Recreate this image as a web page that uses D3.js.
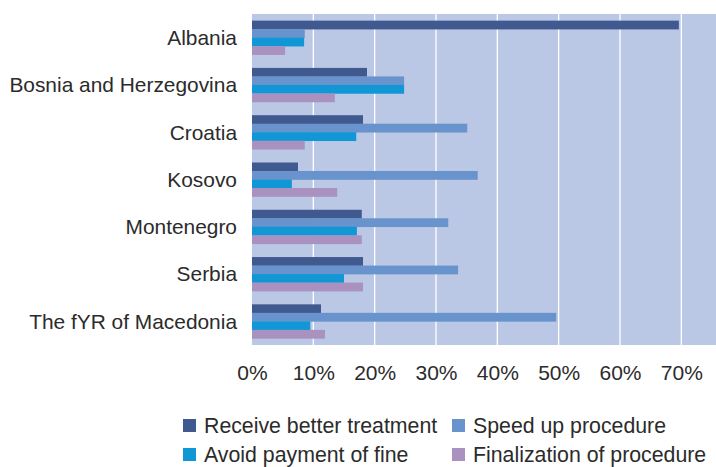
<!DOCTYPE html>
<html><head><meta charset="utf-8">
<script src="https://cdn.jsdelivr.net/npm/d3@7"></script>
<style>body{margin:0;background:#fff;}svg{display:block;font-family:"Liberation Sans",Arial,sans-serif;}</style>
</head><body>
<svg id="c" width="716" height="467"></svg>
<script>
const categories = ["Albania","Bosnia and Herzegovina","Croatia","Kosovo","Montenegro","Serbia","The fYR of Macedonia"];
const seriesNames = ["Receive better treatment","Speed up procedure","Avoid payment of fine","Finalization of procedure"];
const receiveBetter = [0.696,0.1875,0.181,0.075,0.179,0.181,0.1125];
const speedUp = [0.086,0.248,0.351,0.368,0.320,0.336,0.496];
const avoidFine = [0.085,0.248,0.170,0.065,0.171,0.150,0.095];
const finalization = [0.054,0.135,0.086,0.139,0.179,0.181,0.119];
const tickValues = [0,0.1,0.2,0.3,0.4,0.5,0.6,0.7];
const colors = ["#405a90","#6893cc","#1197d6","#a992c0"];
const seriesValues = [receiveBetter, speedUp, avoidFine, finalization];

const svg = d3.select("#c");
const L = 252, R = 716, T = 14, B = 345;
const x = d3.scaleLinear().domain([0, (R-L)/613.3]).range([L, R]);
const y = d3.scaleBand().domain(categories).range([T, B]).paddingInner(0.28).paddingOuter(0.14);
const ys = d3.scaleBand().domain(seriesNames).range([0, y.bandwidth()]);

svg.append("rect").attr("x", L).attr("y", T).attr("width", R-L).attr("height", B-T).attr("fill", "#bac8e6");
svg.append("g").selectAll("line").data(tickValues.slice(1)).join("line")
  .attr("x1", d => x(d)).attr("x2", d => x(d)).attr("y1", T).attr("y2", B)
  .attr("stroke", "#fff").attr("stroke-width", 1.3);

seriesNames.forEach((s, si) => {
  svg.append("g").selectAll("rect").data(categories).join("rect")
    .attr("x", x(0))
    .attr("y", c => y(c) + ys(s))
    .attr("width", (c, i) => x(seriesValues[si][i]) - x(0))
    .attr("height", ys.bandwidth() + 0.3)
    .attr("fill", colors[si]);
});

// category labels
svg.append("g").selectAll("text").data(categories).join("text")
  .attr("x", 237).attr("y", c => y(c) + y.bandwidth()/2)
  .attr("dy", "0.35em").attr("text-anchor", "end")
  .attr("font-size", 20.9).attr("fill", "#2b2b2b").text(c => c);

// x axis labels
const xAxis = d3.axisBottom(x).tickValues(tickValues).tickFormat(d3.format(".0%")).tickSize(0).tickPadding(0);
const gx = svg.append("g").attr("transform", `translate(0,${B})`).call(xAxis);
gx.select(".domain").remove();
gx.selectAll("text").attr("y", 28).attr("dy", "0.35em").attr("font-size", 21).attr("fill", "#2b2b2b")
  .attr("font-family", "Liberation Sans, Arial, sans-serif");

// legend
const legPos = [[183,426],[452,426],[183,455],[452,455]];
const leg = svg.append("g").selectAll("g").data(seriesNames).join("g")
  .attr("transform", (d,i) => `translate(${legPos[i][0]},${legPos[i][1]})`);
leg.append("rect").attr("x", 0).attr("y", -7).attr("width", 13).attr("height", 13).attr("fill", (d,i) => colors[i]);
leg.append("text").attr("x", 21).attr("y", 0).attr("dy", "0.35em").attr("font-size", 21.3).attr("fill", "#2b2b2b").text(d => d);
</script>
</body></html>
